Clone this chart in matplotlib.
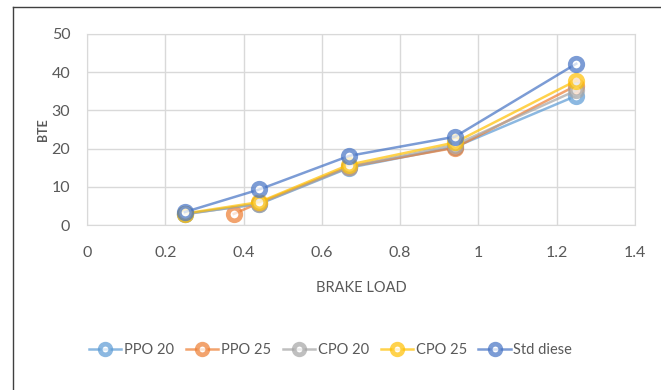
import matplotlib.pyplot as plt
from matplotlib.lines import Line2D

plt.rcParams['font.family'] = ['Lato', 'DejaVu Sans']

# Data
load = [0.25, 0.44, 0.67, 0.94, 1.25]
load_ppo25 = [0.375, 0.44, 0.67, 0.94, 1.25]

ppo20 = [2.9, 5.5, 15.0, 20.4, 33.8]
ppo25 = [2.9, 5.8, 15.3, 20.2, 36.5]
cpo20 = [2.8, 5.6, 15.2, 21.0, 35.2]
cpo25 = [3.0, 6.0, 15.8, 21.6, 37.8]
std_diesel = [3.4, 9.3, 18.1, 23.1, 42.2]

series = [
    ('PPO 20', load, ppo20, '#5B9BD5'),
    ('PPO 25', load_ppo25, ppo25, '#ED7D31'),
    ('CPO 20', load, cpo20, '#A5A5A5'),
    ('CPO 25', load, cpo25, '#FFC000'),
    ('Std diese', load, std_diesel, '#4472C4'),
]

fig = plt.figure(figsize=(6.61, 3.9), dpi=100)
ax = fig.add_axes([0.1316, 0.423, 0.829, 0.49])

for name, x, y, c in series:
    ax.plot(x, y, color=c, lw=1.8, alpha=0.7, marker='o', markersize=9,
            markerfacecolor='white', markeredgecolor=c, markeredgewidth=3.4,
            label=name)

ax.set_xlim(0, 1.4)
ax.set_ylim(0, 50)
ax.set_xticks([0, 0.2, 0.4, 0.6, 0.8, 1, 1.2, 1.4])
ax.set_xticklabels(['0', '0.2', '0.4', '0.6', '0.8', '1', '1.2', '1.4'])
ax.set_yticks([0, 10, 20, 30, 40, 50])
ax.grid(True, color='#D9D9D9', lw=1)
ax.set_axisbelow(True)
for s in ax.spines.values():
    s.set_color('#D9D9D9')
ax.tick_params(length=0, labelsize=11.5, colors='#595959')
ax.tick_params(axis='x', pad=15)
ax.tick_params(axis='y', pad=12)

ax.set_xlabel('BRAKE LOAD', fontsize=10.5, color='#595959', labelpad=15)
ax.set_ylabel('BTE', fontsize=9, color='#595959', fontweight='bold', labelpad=2)

ax.legend(loc='center', bbox_to_anchor=(0.445, -0.655), ncol=5,
          frameon=False, fontsize=10.5, labelcolor='#595959',
          handlelength=2.2, columnspacing=0.8, handletextpad=0.2,
          markerscale=0.85)

# outer frame (left and top edges visible in crop)
fig.add_artist(Line2D([13 / 661, 13 / 661], [0, 1 - 7 / 390], color='#404040', lw=1))
fig.add_artist(Line2D([13 / 661, 1], [1 - 7 / 390, 1 - 7 / 390], color='#404040', lw=1))

fig.savefig('out.png', dpi=100)
